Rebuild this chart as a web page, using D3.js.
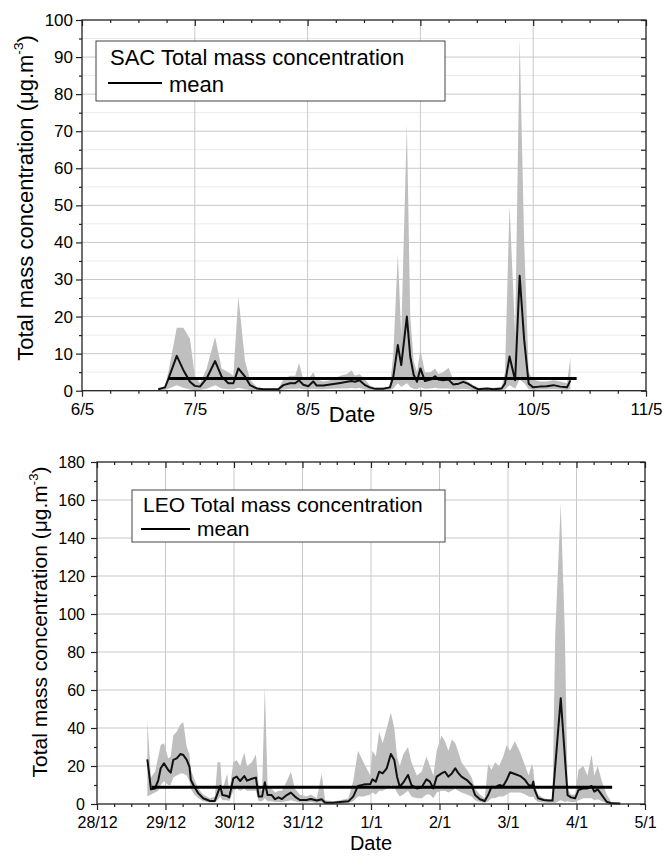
<!DOCTYPE html>
<html>
<head>
<meta charset="utf-8">
<script src="https://cdn.jsdelivr.net/npm/d3@7/dist/d3.min.js"></script>
<style>
  body { margin: 0; background: #fff; }
  svg text { font-family: "Liberation Sans", Arial, sans-serif; fill: #000; }
</style>
</head>
<body>
<svg id="chart" width="664" height="856"></svg>
<script>
// ---- SAC panel (days after 6/5) ----
const sacTickLabels = ['6/5', '7/5', '8/5', '9/5', '10/5', '11/5'];
const sacDays = [
  0.676, 0.736, 0.765, 0.84, 0.898, 0.957, 1.0, 1.046, 1.105, 1.18,
  1.238, 1.297, 1.342, 1.386, 1.445, 1.49, 1.549, 1.607, 1.66, 1.74,
  1.785, 1.844, 1.89, 1.924, 1.962, 2.006, 2.05, 2.08, 2.14, 2.2,
  2.29, 2.35, 2.39, 2.42, 2.46, 2.51, 2.55, 2.6, 2.67, 2.73,
  2.76, 2.8, 2.83, 2.88, 2.91, 2.94, 2.97, 3.0, 3.04, 3.09,
  3.13, 3.16, 3.2, 3.25, 3.29, 3.34, 3.38, 3.42, 3.47, 3.51,
  3.59, 3.65, 3.72, 3.75, 3.79, 3.84, 3.88, 3.92, 3.96, 4.0,
  4.06, 4.12, 4.18, 4.24, 4.3, 4.33];
const sacMean = [
  0.4, 0.9, 3.1, 9.4, 5.6, 2.4, 1.3, 1.1, 3.3, 8.0,
  3.8, 2.0, 2.0, 6.0, 3.8, 1.5, 0.6, 0.4, 0.4, 0.4,
  1.5, 2.0, 2.0, 2.8, 1.6, 1.2, 2.5, 1.4, 1.4, 1.7,
  2.1, 2.4, 2.6, 2.4, 2.8, 1.5, 0.9, 0.5, 0.5, 0.9,
  3.8, 12.3, 6.9, 20.0, 9.2, 4.3, 2.4, 6.0, 2.6, 3.0,
  3.9, 3.0, 2.8, 3.0, 1.7, 1.9, 2.4, 1.9, 1.0, 0.4,
  0.6, 0.4, 0.6, 1.9, 9.2, 2.8, 31.0, 13.7, 1.9, 0.9,
  1.1, 1.2, 1.5, 1.1, 0.9, 2.8];
const sacLow = [
  0.1, 0.2, 0.5, 1.5, 0.8, 0.3, 0.2, 0.2, 0.5, 1.5,
  0.6, 0.4, 0.4, 0.8, 0.4, 0.2, 0.1, 0.1, 0.1, 0.1,
  0.3, 0.5, 0.5, 0.6, 0.4, 0.3, 0.5, 0.4, 0.4, 0.5,
  0.6, 0.6, 0.7, 0.6, 0.7, 0.3, 0.2, 0.1, 0.1, 0.2,
  0.6, 2, 1, 2, 1, 0.5, 0.4, 1, 0.5, 0.6,
  0.8, 0.6, 0.6, 0.6, 0.4, 0.4, 0.5, 0.4, 0.2, 0.1,
  0.1, 0.1, 0.1, 0.3, 1.5, 0.5, 3, 2, 0.4, 0.2,
  0.3, 0.3, 0.4, 0.3, 0.2, 0.4];
const sacHigh = [
  0.5, 1.2, 5, 17, 17, 14, 4, 2, 6, 14.5,
  6, 5, 4, 25.5, 8, 3, 1, 0.6, 0.6, 0.6,
  3, 4, 4, 7.5, 3, 3, 5, 3, 2.5, 2.8,
  4, 4.5, 5.5, 4, 4.5, 3, 1.5, 0.8, 0.8, 1.2,
  10, 37, 15, 72, 20, 8, 5, 11, 5, 5,
  6, 4.5, 5, 6.2, 3, 3, 3.5, 2.5, 1.5, 0.8,
  0.8, 0.8, 1, 5, 50, 15, 95, 40, 5, 3,
  2.5, 2.5, 2.8, 2.5, 2, 9];
const sacOverall = { value: 3.3, from: 0.765, to: 4.385 };

// ---- LEO panel (days after 28/12) ----
const leoTickLabels = ['28/12', '29/12', '30/12', '31/12', '1/1', '2/1', '3/1', '4/1', '5/1'];
const leoDays = [
  0.735, 0.788, 0.847, 0.895, 0.93, 0.978, 1.04, 1.076, 1.114, 1.163,
  1.22, 1.26, 1.31, 1.35, 1.37, 1.42, 1.48, 1.55, 1.65, 1.72,
  1.76, 1.8, 1.83, 1.9, 1.93, 1.99, 2.04, 2.09, 2.15, 2.19,
  2.26, 2.32, 2.36, 2.41, 2.45, 2.49, 2.55, 2.6, 2.65, 2.7,
  2.77, 2.83, 2.89, 2.96, 3.06, 3.12, 3.21, 3.28, 3.33, 3.45,
  3.55, 3.67, 3.74, 3.81, 3.89, 3.99, 4.02, 4.07, 4.12, 4.17,
  4.23, 4.29, 4.34, 4.38, 4.42, 4.47, 4.54, 4.59, 4.67, 4.74,
  4.81, 4.86, 4.91, 4.96, 5.03, 5.08, 5.13, 5.18, 5.23, 5.27,
  5.32, 5.4, 5.47, 5.52, 5.59, 5.66, 5.71, 5.76, 5.81, 5.87,
  5.93, 5.98, 6.03, 6.1, 6.18, 6.25, 6.3, 6.35, 6.37, 6.39,
  6.44, 6.52, 6.59, 6.65, 6.69, 6.77, 6.83, 6.87, 6.92, 6.98,
  7.03, 7.1, 7.16, 7.22, 7.26, 7.31, 7.37, 7.44, 7.51, 7.64];
const leoMean = [
  23.5, 7.7, 8.2, 12.6, 18.8, 21.4, 17.9, 16.5, 23.2, 24.0,
  26.3, 25.8, 23.2, 19.6, 12.6, 9.1, 5.6, 3.0, 1.6, 1.6,
  5.6, 9.5, 4.7, 4.2, 3.5, 13.5, 14.4, 12.1, 14.7, 12.3,
  13.3, 13.9, 3.9, 3.9, 11.4, 4.7, 4.7, 2.5, 3.5, 2.6,
  4.7, 6.0, 3.9, 2.1, 2.1, 2.6, 1.8, 2.5, 0.7, 0.7,
  1.1, 1.4, 3.9, 9.5, 10.2, 10.5, 13.0, 11.8, 17.0, 16.1,
  18.8, 26.3, 23.2, 14.4, 9.1, 11.2, 15.3, 10.0, 8.2, 8.8,
  13.0, 11.8, 8.2, 14.4, 16.1, 17.0, 14.4, 16.1, 18.8, 16.5,
  14.4, 12.6, 10.0, 4.7, 2.5, 1.6, 4.7, 9.1, 8.8, 10.0,
  9.5, 12.6, 16.7, 15.8, 14.7, 12.6, 10.0, 9.5, 11.8, 7.4,
  3.0, 2.1, 1.8, 1.8, 20, 55.6, 25, 4.7, 3.5, 3.0,
  7.4, 8.2, 8.2, 9.5, 6.5, 7.7, 4.7, 1.2, 0.35, 0.3];
const leoLow = [
  4, 5, 6, 7, 10, 12, 10, 10, 14, 15,
  16, 16, 15, 12, 8, 5, 3, 1.5, 0.8, 0.8,
  2, 4, 2, 2, 1.5, 7, 8, 7, 8, 7,
  7, 7, 1.5, 1.5, 3, 1.5, 1.5, 1, 1, 1,
  1.5, 2, 1.5, 0.8, 0.8, 1, 0.5, 0.8, 0.2, 0.2,
  0.3, 0.5, 1.5, 4, 4, 5, 6, 5, 7, 7,
  8, 10, 9, 6, 4, 5, 7, 4, 3, 3,
  5, 5, 3, 6, 7, 7, 6, 7, 8, 7,
  6, 5, 4, 2, 1, 0.5, 1.5, 3, 3, 4,
  4, 5, 6, 6, 6, 5, 4, 3.5, 4, 2.5,
  1, 0.8, 0.6, 0.6, 0.5, 2, 1, 1.5, 1, 1,
  2, 3, 3, 3, 2, 2.5, 1.5, 0.4, 0.1, 0.1];
const leoHigh = [
  44, 14, 17, 25, 31, 32, 24, 25, 36, 38,
  42, 43, 30, 26, 18, 13, 8, 5, 3, 4,
  22, 22, 7, 16, 6, 22, 23, 20, 27, 20,
  22, 26, 10, 7, 62, 10, 8, 6, 7, 7,
  12, 17, 8, 5, 4, 5, 3, 16, 2, 1.5,
  2, 3, 12, 28, 22, 15, 28, 25, 38, 32,
  40, 48, 40, 25, 20, 26, 30, 22, 15, 17,
  25, 20, 15, 28, 36, 33, 28, 34, 32, 28,
  22, 18, 14, 8, 5, 3, 21, 18, 22, 20,
  25, 31, 28, 33, 27, 20, 15, 21, 18, 10,
  5, 3, 2.5, 2.5, 90, 158, 90, 8, 5, 5,
  18, 20, 15, 26, 15, 20, 12, 5, 1, 0.5];
const leoOverall = { value: 8.8, from: 0.8, to: 7.52 };

const svg = d3.select('#chart');

function drawPanel(p) {
  const x = d3.scaleLinear().domain([0, p.tickLabels.length - 1]).range([p.left, p.right]);
  const y = d3.scaleLinear().domain([0, p.yMax]).range([p.bottom, p.top]);
  const g = svg.append('g');

  const majorX = d3.range(0, p.tickLabels.length);
  const minorX = d3.range(0, p.tickLabels.length - 1, 0.25).filter((d) => d % 1 !== 0);
  const majorY = d3.range(0, p.yMax + 1, p.yStep);
  const minorY = d3.range(p.yStep / 2, p.yMax, p.yStep);

  // grid
  if (p.minorGrid) {
    g.selectAll('.grid-minor').data(minorY).enter().append('line')
      .attr('x1', p.left).attr('x2', p.right)
      .attr('y1', (d) => y(d)).attr('y2', (d) => y(d))
      .attr('stroke', '#ebebeb').attr('stroke-width', 1);
  }
  g.selectAll('.grid-y').data(majorY.slice(1, -1)).enter().append('line')
    .attr('x1', p.left).attr('x2', p.right)
    .attr('y1', (d) => y(d)).attr('y2', (d) => y(d))
    .attr('stroke', '#c9c9c9').attr('stroke-width', 1);
  g.selectAll('.grid-x').data(majorX.slice(1, -1)).enter().append('line')
    .attr('y1', p.top).attr('y2', p.bottom)
    .attr('x1', (d) => x(d)).attr('x2', (d) => x(d))
    .attr('stroke', '#c9c9c9').attr('stroke-width', 1);

  const rows = p.days.map((d, i) => ({ d: d, m: p.mean[i], lo: p.low[i], hi: p.high[i] }));

  // min-max band
  g.append('path').datum(rows)
    .attr('d', d3.area().x((r) => x(r.d)).y0((r) => y(r.lo)).y1((r) => y(r.hi)))
    .attr('fill', '#bfbfbf');

  // mean series
  g.append('path').datum(rows)
    .attr('d', d3.line().x((r) => x(r.d)).y((r) => y(r.m)))
    .attr('fill', 'none').attr('stroke', '#111').attr('stroke-width', 2)
    .attr('stroke-linejoin', 'round');

  // overall mean
  g.append('line')
    .attr('x1', x(p.overall.from)).attr('x2', x(p.overall.to))
    .attr('y1', y(p.overall.value)).attr('y2', y(p.overall.value))
    .attr('stroke', '#000').attr('stroke-width', 3);

  // frame
  g.append('rect')
    .attr('x', p.left).attr('y', p.top)
    .attr('width', p.right - p.left).attr('height', p.bottom - p.top)
    .attr('fill', 'none').attr('stroke', '#222').attr('stroke-width', 1.3);

  const styleAxis = (sel, size) => {
    sel.select('.domain').remove();
    sel.selectAll('line').attr('stroke', '#222').attr('stroke-width', 1.2);
    sel.selectAll('text').style('font-size', size + 'px').attr('fill', '#000');
  };

  // bottom
  g.append('g').attr('transform', `translate(0,${p.bottom})`)
    .call(d3.axisBottom(x).tickValues(majorX).tickSize(6).tickPadding(p.xPad)
      .tickFormat((d, i) => p.tickLabels[i]))
    .call((s) => styleAxis(s, p.tickFont))
    .attr('font-family', null);
  g.append('g').attr('transform', `translate(0,${p.bottom})`)
    .call(d3.axisBottom(x).tickValues(minorX).tickSize(3).tickFormat(''))
    .call((s) => styleAxis(s, p.tickFont));
  // top (inward)
  g.append('g').attr('transform', `translate(0,${p.top})`)
    .call(d3.axisTop(x).tickValues(majorX).tickSize(-6).tickFormat(''))
    .call((s) => styleAxis(s, p.tickFont));
  g.append('g').attr('transform', `translate(0,${p.top})`)
    .call(d3.axisTop(x).tickValues(minorX).tickSize(-3).tickFormat(''))
    .call((s) => styleAxis(s, p.tickFont));
  // left
  g.append('g').attr('transform', `translate(${p.left},0)`)
    .call(d3.axisLeft(y).tickValues(majorY).tickSize(6).tickPadding(p.yPad).tickFormat(d3.format('d')))
    .call((s) => styleAxis(s, p.tickFont))
    .attr('font-family', null);
  g.append('g').attr('transform', `translate(${p.left},0)`)
    .call(d3.axisLeft(y).tickValues(minorY).tickSize(3).tickFormat(''))
    .call((s) => styleAxis(s, p.tickFont));
  // right (inward)
  g.append('g').attr('transform', `translate(${p.right},0)`)
    .call(d3.axisRight(y).tickValues(majorY.concat(minorY)).tickSize(-5).tickFormat(''))
    .call((s) => styleAxis(s, p.tickFont));

  // axis titles
  g.append('text')
    .attr('x', p.dateX).attr('y', p.dateY)
    .attr('text-anchor', 'middle')
    .style('font-size', p.dateFont + 'px')
    .text('Date');

  const yt = g.append('text')
    .attr('transform', `translate(${p.yTitleX},${p.yTitleY}) rotate(-90)`)
    .attr('text-anchor', 'middle')
    .style('font-size', p.yTitleFont + 'px');
  yt.append('tspan').text('Total mass concentration (\u03bcg.m');
  yt.append('tspan').attr('dy', -p.yTitleFont * 0.45)
    .style('font-size', (p.yTitleFont * 0.62) + 'px').text('-3');
  yt.append('tspan').attr('dy', p.yTitleFont * 0.45).text(')');

  // legend
  const lg = p.legend;
  g.append('rect')
    .attr('x', lg.x).attr('y', lg.y).attr('width', lg.w).attr('height', lg.h)
    .attr('fill', '#fff').attr('stroke', '#444').attr('stroke-width', 1);
  g.append('text')
    .attr('x', lg.x + lg.pad).attr('y', lg.y + lg.line1)
    .style('font-size', lg.font + 'px')
    .text(lg.title);
  g.append('line')
    .attr('x1', lg.x + lg.pad - 2).attr('x2', lg.x + lg.pad + lg.sample)
    .attr('y1', lg.y + lg.sampleY).attr('y2', lg.y + lg.sampleY)
    .attr('stroke', '#000').attr('stroke-width', 2);
  g.append('text')
    .attr('x', lg.x + lg.pad + lg.sample + 7).attr('y', lg.y + lg.line2)
    .style('font-size', lg.font + 'px')
    .text('mean');
}

drawPanel({
  tickLabels: sacTickLabels, days: sacDays, mean: sacMean, low: sacLow, high: sacHigh,
  overall: sacOverall, yMax: 100, yStep: 10, minorGrid: true,
  left: 82, right: 646, top: 20, bottom: 390.7,
  tickFont: 17, xPad: 6, yPad: 3,
  dateX: 352, dateY: 422, dateFont: 22,
  yTitleX: 33, yTitleY: 198, yTitleFont: 22,
  legend: { x: 96, y: 41, w: 349, h: 60, pad: 14, line1: 24, line2: 51, sampleY: 42,
            sample: 52, font: 22, title: 'SAC Total mass concentration' }
});

drawPanel({
  tickLabels: leoTickLabels, days: leoDays, mean: leoMean, low: leoLow, high: leoHigh,
  overall: leoOverall, yMax: 180, yStep: 20, minorGrid: false,
  left: 97, right: 645, top: 462, bottom: 804,
  tickFont: 16, xPad: 7, yPad: 6,
  dateX: 371, dateY: 850, dateFont: 20,
  yTitleX: 47, yTitleY: 622, yTitleFont: 21,
  legend: { x: 132, y: 490, w: 313, h: 52, pad: 11, line1: 22, line2: 46, sampleY: 39,
            sample: 47, font: 21, title: 'LEO Total mass concentration' }
});
</script>
</body>
</html>
